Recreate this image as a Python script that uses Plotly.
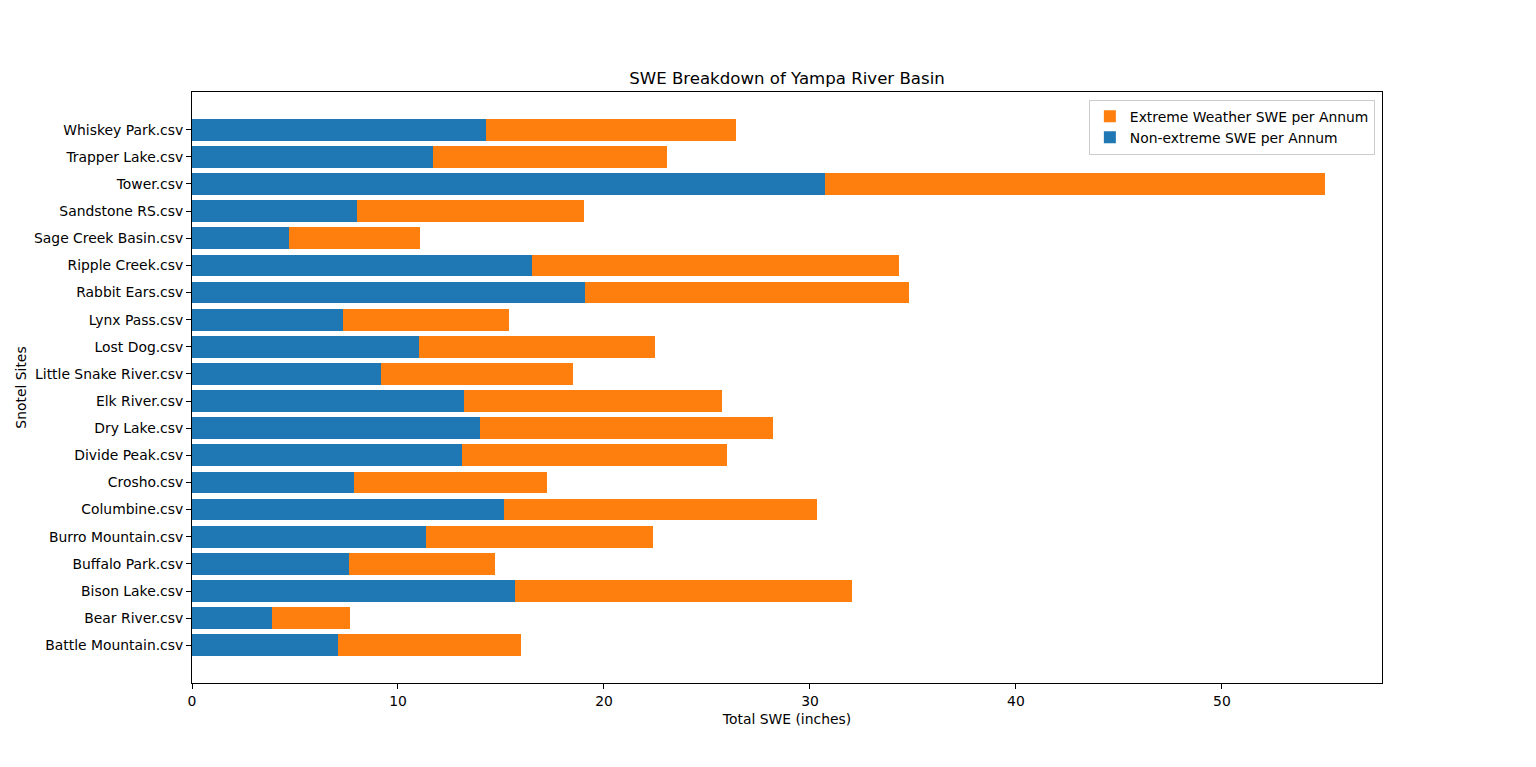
import plotly.graph_objects as go

# Sites de bas en haut (ordre de l'axe y)
sites = ['Battle Mountain.csv', 'Bear River.csv', 'Bison Lake.csv', 'Buffalo Park.csv',
         'Burro Mountain.csv', 'Columbine.csv', 'Crosho.csv', 'Divide Peak.csv',
         'Dry Lake.csv', 'Elk River.csv', 'Little Snake River.csv', 'Lost Dog.csv',
         'Lynx Pass.csv', 'Rabbit Ears.csv', 'Ripple Creek.csv', 'Sage Creek Basin.csv',
         'Sandstone RS.csv', 'Tower.csv', 'Trapper Lake.csv', 'Whiskey Park.csv']

# SWE non extreme (inches)
non_extreme = [7.10, 3.90, 15.69, 7.60, 11.36, 15.15, 7.86, 13.12, 13.98, 13.20,
               9.18, 11.04, 7.34, 19.07, 16.52, 4.72, 8.03, 30.71, 11.71, 14.29]

# SWE total (non extreme + extreme)
total = [15.97, 7.68, 32.03, 14.72, 22.38, 30.32, 17.23, 25.97, 28.20, 25.71,
         18.51, 22.47, 15.39, 34.83, 34.30, 11.08, 19.03, 55.02, 23.05, 26.41]

extreme = [t - n for t, n in zip(total, non_extreme)]

fig = go.Figure()

fig.add_trace(go.Bar(y=sites, x=non_extreme, orientation='h', name='Non-extreme SWE per Annum',
                     marker=dict(color='#1f77b4', line=dict(width=0)), width=0.8))
fig.add_trace(go.Bar(y=sites, x=extreme, orientation='h', name='Extreme Weather SWE per Annum',
                     marker=dict(color='#ff7f0e', line=dict(width=0)), width=0.8))

# la page ajoute ~8px de marge au body : on compense dans les marges
fig.update_layout(
    barmode='stack',
    width=1536,
    height=767,
    paper_bgcolor='white',
    plot_bgcolor='white',
    font=dict(family='DejaVu Sans', size=13.9, color='black'),
    margin=dict(l=184, r=162, t=84, b=92),
    title=dict(text='SWE Breakdown of Yampa River Basin', x=(184 + 1374) / 2 / 1536, xanchor='center',
               y=1 - 70 / 767, yanchor='middle', font=dict(size=16.6)),
    legend=dict(x=0.994, y=0.987, xanchor='right', yanchor='top', traceorder='reversed',
                bordercolor='#cccccc', borderwidth=1, bgcolor='rgba(255,255,255,0.8)',
                font=dict(size=13.9), tracegroupgap=0),
    showlegend=True,
)

fig.update_xaxes(
    title=dict(text='Total SWE (inches)', font=dict(size=13.9), standoff=6),
    range=[0, 57.77], tickvals=[0, 10, 20, 30, 40, 50],
    showgrid=False, zeroline=False,
    showline=True, linecolor='black', linewidth=1, mirror=True,
    ticks='outside', ticklen=5, tickcolor='black',
)
fig.update_yaxes(
    title=dict(text='Snotel Sites', font=dict(size=13.9), standoff=4),
    range=[-1.39, 20.39], categoryorder='array', categoryarray=sites,
    showgrid=False, zeroline=False,
    showline=True, linecolor='black', linewidth=1, mirror=True,
    ticks='outside', ticklen=5, tickcolor='black',
)

fig.write_html("out.html")
